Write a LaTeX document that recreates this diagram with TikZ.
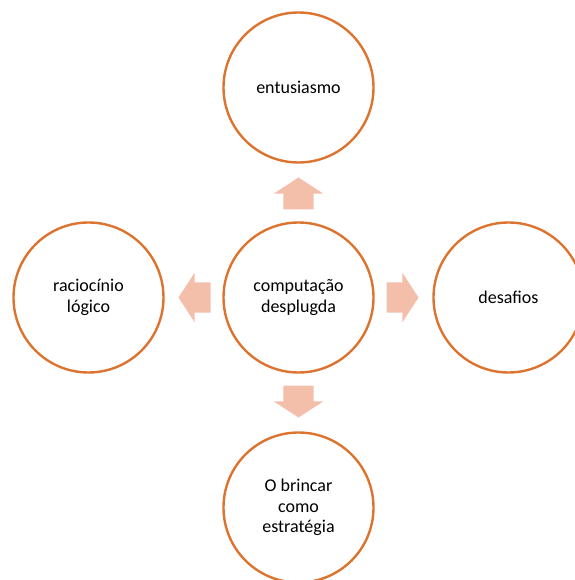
\documentclass[tikz,border=0pt]{standalone}
\usepackage{fontspec}
\setmainfont{Carlito}
\usetikzlibrary{shapes.arrows}

\definecolor{contorno}{HTML}{DC7430}
\definecolor{seta}{HTML}{F4BFAA}

\tikzset{
  bolha/.style={circle, draw=contorno, line width=2.4pt, fill=white,
    minimum size=150pt, inner sep=0pt, align=center,
    font=\fontsize{18}{20.5}\selectfont},
  fluxo/.style={single arrow, fill=seta, draw=none, outer sep=0pt,
    inner xsep=0pt, inner ysep=15pt, minimum height=32pt,
    single arrow head extend=9.5pt, single arrow tip angle=114,
    single arrow head indent=0pt, anchor=tail}
}

\begin{document}
\begin{tikzpicture}
      \useasboundingbox (-298.5pt,-282.5pt) rectangle (275.5pt,297.5pt);

      \node[bolha] (hub) at (0,0) {computação\\desplugda};

      \foreach \ang/\nome/\texto in {90/topo/entusiasmo,
          180/esq/{raciocínio\\lógico},
          0/dir/desafios,
          270/base/{O brincar\\como\\estratégia}} {
          \node[bolha] (\nome) at (\ang:210pt) {\texto};
          \node[fluxo, rotate=\ang] (seta_\nome) at (\ang:88pt) {};
        }
    \end{tikzpicture}
\end{document}
